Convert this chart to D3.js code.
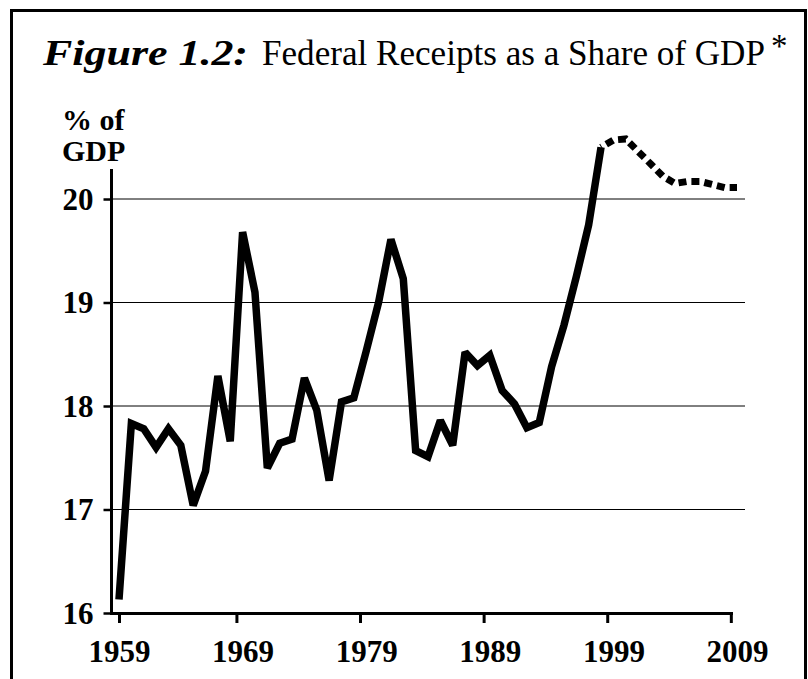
<!DOCTYPE html>
<html><head><meta charset="utf-8">
<script src="https://cdn.jsdelivr.net/npm/d3@7"></script>
<style>body{margin:0;background:#fff} svg{display:block}</style>
</head><body>
<svg id="c" width="808" height="679"></svg>
<script>
// ---- data ----
const actualYears = [1959,1960,1961,1962,1963,1964,1965,1966,1967,1968,1969,1970,1971,1972,1973,1974,1975,1976,1977,1978,1979,1980,1981,1982,1983,1984,1985,1986,1987,1988,1989,1990,1991,1992,1993,1994,1995,1996,1997,1998];
const actualValues = [16.13,17.83,17.78,17.60,17.78,17.62,17.04,17.37,18.29,17.66,19.68,19.10,17.40,17.64,17.68,18.27,17.96,17.28,18.04,18.08,18.53,19.00,19.61,19.23,17.57,17.51,17.86,17.62,18.52,18.39,18.49,18.15,18.02,17.79,17.84,18.38,18.78,19.25,19.75,20.50];
const projYears = [1998,1999,2000,2001,2002,2003,2004,2005,2006,2007,2008,2009];
const projValues = [20.50,20.57,20.58,20.46,20.34,20.22,20.15,20.17,20.17,20.14,20.11,20.11];
const xTickLabels = [1959,1969,1979,1989,1999,2009];
const xTickMarks = [1959,1968.5,1978.5,1988.5,1998.5,2008.5];
const yTicks = [16,17,18,19,20];
const yGrid = [17,18,19,20];

const FONT = "'Liberation Serif','Times New Roman',serif";
const svg = d3.select("#c");

// frame
svg.append("rect").attr("x",11.5).attr("y",10.5).attr("width",794).attr("height",700)
  .attr("fill","none").attr("stroke","#000").attr("stroke-width",3);

const x = d3.scaleLinear().domain([1959,2009]).range([119,737]);
const y = d3.scaleLinear().domain([16,20]).range([613,199]);

// title
svg.append("text").attr("x",43).attr("y",65)
  .attr("font-family",FONT).attr("font-size",35).attr("font-weight","bold").attr("font-style","italic")
  .attr("textLength",205).attr("lengthAdjust","spacingAndGlyphs").text("Figure 1.2:");
svg.append("text").attr("x",262).attr("y",65)
  .attr("font-family",FONT).attr("font-size",35.5).attr("textLength",503).attr("lengthAdjust","spacingAndGlyphs")
  .text("Federal Receipts as a Share of GDP");
svg.append("text").attr("x",771).attr("y",57)
  .attr("font-family",FONT).attr("font-size",33).text("*");

// y label
const yl = svg.append("text").attr("font-family",FONT).attr("font-size",30).attr("font-weight","bold");
yl.append("tspan").attr("x",62).attr("y",130).text("% of");
yl.append("tspan").attr("x",62).attr("y",161).text("GDP");

// gridlines
svg.append("g").selectAll("line").data(yGrid).join("line")
  .attr("x1",113).attr("x2",x(2009)+8)
  .attr("y1",d=>y(d)).attr("y2",d=>y(d))
  .attr("stroke","#000").attr("stroke-width",1);

// y axis
const yAxis = d3.axisLeft(y).tickValues(yTicks).tickSize(8).tickPadding(10).tickFormat(d3.format("d"));
const gy = svg.append("g").attr("transform","translate(111.5,0)").call(yAxis);
gy.select(".domain").remove();
gy.selectAll(".tick line").attr("stroke","#000").attr("stroke-width",2.5);
gy.selectAll("text").attr("font-family",FONT).attr("font-size",31).attr("font-weight","bold").attr("fill","#000").attr("dy","0.33em");
svg.append("line").attr("x1",111.5).attr("x2",111.5).attr("y1",169).attr("y2",615)
  .attr("stroke","#000").attr("stroke-width",3);

// x axis
const gxTicks = svg.append("g").attr("transform","translate(0,613.5)")
  .call(d3.axisBottom(x).tickValues(xTickMarks).tickSize(9.5).tickFormat(""));
gxTicks.select(".domain").remove();
gxTicks.selectAll(".tick line").attr("stroke","#000").attr("stroke-width",3);
const gxLab = svg.append("g").attr("transform","translate(0,613.5)")
  .call(d3.axisBottom(x).tickValues(xTickLabels).tickSize(0).tickFormat(d3.format("d")));
gxLab.select(".domain").remove();
gxLab.selectAll("text").attr("font-family",FONT).attr("font-size",31).attr("font-weight","bold")
  .attr("fill","#000").attr("y",48.5).attr("dy",0);
svg.append("line").attr("x1",110).attr("x2",x(2009)-4).attr("y1",613.5).attr("y2",613.5)
  .attr("stroke","#000").attr("stroke-width",3);

// lines
const line = d3.line().x(d=>x(d[0])).y(d=>y(d[1]));
svg.append("path").datum(actualYears.map((yr,i)=>[yr,actualValues[i]]))
  .attr("d",line).attr("fill","none").attr("stroke","#000").attr("stroke-width",7.5)
  .attr("stroke-linejoin","miter").attr("stroke-miterlimit",2);
svg.append("path").datum(projYears.map((yr,i)=>[yr,projValues[i]]))
  .attr("d",line).attr("fill","none").attr("stroke","#000").attr("stroke-width",7)
  .attr("stroke-dasharray","8,5").attr("stroke-dashoffset",-6);
</script>
</body></html>
